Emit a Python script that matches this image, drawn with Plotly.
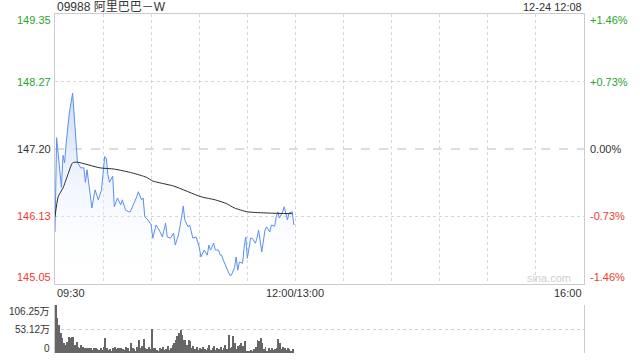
import plotly.graph_objects as go

# ---------------- data ----------------
title_text = "09988 阿里巴巴－W"
stamp_text = "12-24 12:08"
prev_close = 147.20

price_min = [0, 1, 4, 5, 6, 7, 9, 11, 14, 16, 18, 19, 20, 22, 23, 25, 27, 29, 31, 32,
             33, 34, 36, 37, 39, 41, 42, 44, 46, 47, 49, 51, 52, 54, 55, 56, 58, 60, 61, 63,
             65, 67, 69, 70, 72, 74, 75, 77, 79, 80, 81, 83, 84, 86, 88, 90, 91, 93, 95, 96,
             97, 99, 100, 102, 103, 104, 105, 107, 109, 110, 112, 113, 114, 115, 117, 118, 119, 120, 122, 123,
             125, 126, 127, 129, 131, 132, 134, 135, 137, 138, 139, 140, 142, 143, 145, 146, 148, 149]
price_val = [145.88, 147.38, 146.59, 147.10, 146.98, 147.30, 147.79, 148.09, 146.99, 146.90, 146.90, 146.67, 146.87, 146.50, 146.26, 146.55, 146.39, 146.55, 147.08, 147.05,
             146.79, 146.67, 146.77, 146.28, 146.42, 146.31, 146.39, 146.23, 146.20, 146.20, 146.31, 146.44, 146.52, 146.39, 146.42, 146.12, 146.07, 145.99, 145.78, 145.99,
             145.91, 145.80, 146.02, 145.80, 145.78, 145.86, 145.67, 145.83, 146.12, 146.29, 146.07, 145.96, 145.99, 145.78, 145.80, 145.64, 145.48, 145.59, 145.51, 145.67,
             145.59, 145.70, 145.59, 145.59, 145.51, 145.51, 145.43, 145.31, 145.19, 145.19, 145.31, 145.48, 145.27, 145.40, 145.38, 145.64, 145.80, 145.46, 145.78, 145.78,
             145.70, 145.78, 145.91, 145.56, 145.91, 145.96, 145.88, 145.99, 145.97, 146.12, 146.20, 146.10, 146.20, 146.28, 146.07, 146.18, 146.20, 145.99]

avg_min = [0, 2, 5, 8, 11, 14, 28, 37, 48, 57, 61, 74, 91, 100, 107, 112, 120, 133, 148]
avg_val = [146.12, 146.44, 146.58, 146.79, 146.98, 146.99, 146.90, 146.88, 146.82, 146.75, 146.69, 146.61, 146.44, 146.39, 146.33, 146.26, 146.20, 146.18, 146.17]

vol_wan = [106, 78, 62, 45, 33, 22, 18, 25, 35, 33,
           35, 36, 18, 25, 14, 12, 18, 13, 12, 11,
           12, 10, 12, 6, 10, 12, 9, 7, 11, 6,
           14, 34, 10, 7, 9, 5, 11, 13, 9, 11,
           10, 12, 8, 7, 14, 10, 5, 22, 12, 9,
           5, 13, 28, 10, 15, 31, 12, 9, 14, 8,
           53, 12, 10, 7, 5, 11, 8, 13, 6, 9,
           16, 7, 11, 18, 22, 28, 37, 44, 50, 40,
           29, 29, 18, 29, 26, 12, 15, 9, 14, 7,
           11, 8, 13, 9, 6, 12, 18, 7, 10, 15,
           6, 11, 9, 14, 7, 12, 17, 9, 39, 11,
           14, 38, 22, 9, 15, 18, 23, 15, 26, 4,
           5, 3, 6, 5, 9, 13, 29, 26, 33, 22,
           9, 13, 5, 10, 7, 12, 6, 9, 11, 31,
           22, 8, 14, 10, 6, 12, 8, 5, 9]
vol_min = list(range(len(vol_wan)))

price_ticks = [149.35, 148.27, 147.20, 146.13, 145.05]
price_labels = ["149.35", "148.27", "147.20", "146.13", "145.05"]
pct_labels = ["+1.46%", "+0.73%", "0.00%", "-0.73%", "-1.46%"]
vol_ticks = [106.25, 53.12, 0]
vol_labels = ["106.25万", "53.12万", "0"]
time_ticks = [0, 150, 330]
time_labels = ["09:30", "12:00/13:00", "16:00"]

# ---------------- figure ----------------
W, H = 640, 360
FONT = "Liberation Sans, Arial, Noto Sans CJK SC, sans-serif"
GREEN = "#2aa52a"
RED = "#f03a2e"
DARK = "#333333"

fig = go.Figure()

fig.add_trace(go.Scatter(
    x=price_min, y=price_val, mode="lines",
    line=dict(color="#5b8ff0", width=1),
    fill="tozeroy",
    fillgradient=dict(type="vertical",
                      colorscale=[[0, "rgba(255,255,255,0)"], [1, "rgba(200,218,250,0.95)"]],
                      start=145.05, stop=148.1),
    hoverinfo="skip", xaxis="x", yaxis="y"))

fig.add_trace(go.Scatter(
    x=avg_min, y=avg_val, mode="lines",
    line=dict(color="#2b2b2b", width=1, shape="spline", smoothing=0.6),
    hoverinfo="skip", xaxis="x", yaxis="y"))

fig.add_trace(go.Bar(
    x=vol_min, y=vol_wan, width=0.6,
    marker=dict(color="#666666", line=dict(width=0)),
    hoverinfo="skip", xaxis="x2", yaxis="y2"))

x0, x1 = 55 / W, 584 / W
fig.update_layout(
    width=W, height=H, autosize=False,
    margin=dict(l=0, r=0, t=0, b=0),
    paper_bgcolor="white", plot_bgcolor="white",
    showlegend=False, bargap=0,
    font=dict(family=FONT, size=11, color=DARK),
    xaxis=dict(domain=[x0, x1], range=[0, 330], tick0=0, dtick=30,
               showgrid=True, gridcolor="#d6d6d6", griddash="dot", gridwidth=1,
               showline=True, mirror=True, linecolor="#cccccc", linewidth=1,
               showticklabels=False, ticks="", zeroline=False, fixedrange=True),
    yaxis=dict(domain=[1 - 284 / H, 1 - 14 / H], range=[145.05, 149.35],
               tickvals=[148.27, 146.13],
               showgrid=True, gridcolor="#d6d6d6", griddash="dot", gridwidth=1,
               showline=True, mirror=True, linecolor="#cccccc", linewidth=1,
               showticklabels=False, ticks="", zeroline=False, fixedrange=True),
    xaxis2=dict(domain=[x0, x1], range=[-0.5, 330], anchor="y2",
                showgrid=False, showline=False, showticklabels=False,
                ticks="", zeroline=False, fixedrange=True),
    yaxis2=dict(domain=[1 - 353 / H, 1 - 305 / H], range=[0, 106.25], anchor="x2",
                tickvals=vol_ticks,
                showgrid=True, gridcolor="#cfcfcf", griddash="dot", gridwidth=1,
                showline=True, mirror=True, linecolor="#cccccc", linewidth=1,
                showticklabels=False, ticks="", zeroline=False, fixedrange=True),
)

# previous close dashed line
fig.add_shape(type="line", xref="x", yref="y", x0=0, x1=330,
              y0=prev_close, y1=prev_close,
              line=dict(color="#bbbbbb", width=1, dash="dash"), layer="below")

ann = []
ann.append(dict(text=title_text, xref="paper", yref="paper", x=x0, y=1 - 7 / H,
                xanchor="left", yanchor="middle", showarrow=False,
                font=dict(size=12, color=DARK)))
ann.append(dict(text=stamp_text, xref="paper", yref="paper", x=x1, y=1 - 7 / H,
                xanchor="right", yanchor="middle", showarrow=False,
                font=dict(size=11, color=DARK)))

for i, (v, lab, pl) in enumerate(zip(price_ticks, price_labels, pct_labels)):
    if v > prev_close + 1e-9:
        c = GREEN
    elif v < prev_close - 1e-9:
        c = RED
    else:
        c = DARK
    ys = 0
    if i == 0:
        ys = -6
    elif i == len(price_ticks) - 1:
        ys = 7
    ann.append(dict(text=lab, xref="paper", yref="y", x=x0, y=v, xshift=-2, yshift=ys,
                    xanchor="right", yanchor="middle", showarrow=False,
                    font=dict(size=11, color=c)))
    ann.append(dict(text=pl, xref="paper", yref="y", x=x1, y=v, xshift=4, yshift=ys,
                    xanchor="left", yanchor="middle", showarrow=False,
                    font=dict(size=11, color=c)))

for v, lab in zip(vol_ticks, vol_labels):
    ys = 0
    if v == vol_ticks[0]:
        ys = -6
    elif v == 0:
        ys = 5
    ann.append(dict(text=lab, xref="paper", yref="y2", x=x0, y=v, xshift=-3, yshift=ys,
                    xanchor="right", yanchor="middle", showarrow=False,
                    font=dict(size=10, color=DARK)))

anchors = ["left", "center", "right"]
for t, lab, a in zip(time_ticks, time_labels, anchors):
    ann.append(dict(text=lab, xref="x", yref="paper", x=t, y=1 - 293 / H,
                    xanchor=a, yanchor="middle", showarrow=False,
                    font=dict(size=11, color=DARK)))

ann.append(dict(text="sina.com", xref="paper", yref="paper", x=x1, y=1 - 278 / H,
                xshift=-11, xanchor="right", yanchor="middle", showarrow=False,
                font=dict(size=11, color="#cfcfcf")))

fig.update_layout(annotations=ann)
fig.write_html("out.html")
